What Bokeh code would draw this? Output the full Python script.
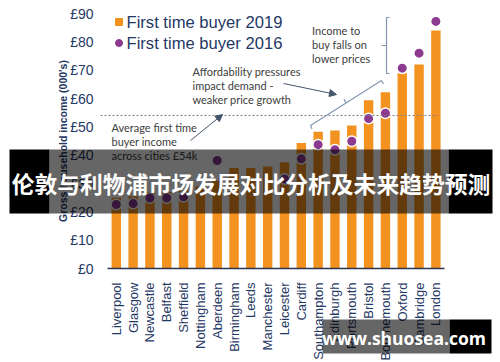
from bokeh.plotting import figure
from bokeh.models import (Range1d, FixedTicker, PrintfTickFormatter,
                          Label, BoxAnnotation, Arrow, NormalHead)
from bokeh.embed import file_html
from bokeh.resources import INLINE
import math

nan = float("nan")

cities = ["Liverpool", "Glasgow", "Newcastle", "Belfast", "Sheffield", "Nottingham",
          "Aberdeen", "Birmingham", "Leeds", "Manchester", "Leicester", "Cardiff",
          "Southampton", "Edinburgh", "Portsmouth", "Bristol", "Bournemouth",
          "Oxford", "Cambridge", "London"]
ftb_2019 = [25.0, 25.5, 27.0, 27.0, 27.5, 29.0, 31.0, 35.5, 35.5, 36.0, 37.5, 44.3,
            48.3, 48.7, 50.5, 59.4, 62.2, 68.9, 72.0, 84.0]
ftb_2016 = [22.6, 22.9, 24.9, 24.9, 25.3, nan, 38.1, nan, nan, nan, 31.6, 38.7,
            43.7, 41.9, 44.9, 52.9, 54.8, 70.7, 76.0, 87.2]
y_ticks = [0, 10, 20, 30, 40, 50, 60, 70, 80, 90]
avg_income = 54

ORANGE = "#F4921F"
PURPLE = "#8B3A8F"
NAVY = "#1F3864"
GREY_TXT = "#404040"
ARROW_C = "#44546A"
BRACE_C = "#8497B0"

W, H = 500, 362
# picture geometry: first category centre, category step, zero line, px per £1k
X0_IMG, STEP = 115.8, 16.82
Y0_IMG, PX_Y = 268.0, 255.0 / 90.0


def ix(x):
    return (x - X0_IMG) / STEP


def iy(y):
    return (Y0_IMG - y) / PX_Y


idx = list(range(len(cities)))

p = figure(width=W, height=H, output_backend="svg", toolbar_location=None,
           x_range=Range1d(ix(0), ix(W)), y_range=Range1d(iy(H), iy(0)),
           min_border=0, min_border_left=0, min_border_right=0,
           min_border_top=0, min_border_bottom=0)
p.title.visible = False
p.outline_line_color = None
p.grid.visible = False
p.background_fill_color = "white"

p.vbar(x=idx, top=ftb_2019, width=0.56, color=ORANGE, line_color=None)
p.scatter(x=idx, y=ftb_2016, size=10.5, fill_color=PURPLE, line_color="white",
          line_width=1.5)

# average line
p.segment(x0=[ix(100)], y0=[avg_income], x1=[ix(437)], y1=[avg_income],
          line_color="#7F7F7F", line_dash="2 2", line_width=1)

# axes (fixed inside the frame)
ya = p.yaxis[0]
ya.fixed_location = ix(107)
ya.bounds = (y_ticks[0], y_ticks[-1])
ya.ticker = FixedTicker(ticks=y_ticks)
ya.formatter = PrintfTickFormatter(format="£%d")
ya.axis_line_color = None
ya.major_tick_line_color = None
ya.minor_tick_line_color = None
ya.major_label_text_font = "Liberation Sans"
ya.major_label_text_font_size = "14px"
ya.major_label_text_color = NAVY
ya.major_label_standoff = 8
ya.axis_label = "Gross household income (000's)"
ya.axis_label_text_font = "Liberation Sans"
ya.axis_label_text_font_size = "10.5px"
ya.axis_label_text_font_style = "bold"
ya.axis_label_text_color = NAVY
ya.axis_label_standoff = -2

xa = p.xaxis[0]
xa.fixed_location = 0
xa.bounds = (ix(107), ix(443.5))
xa.ticker = FixedTicker(ticks=idx)
xa.major_label_overrides = {i: c for i, c in zip(idx, cities)}
xa.axis_line_color = "#2B3550"
xa.axis_line_width = 1.3
xa.major_tick_line_color = None
xa.minor_tick_line_color = None
xa.major_label_orientation = math.pi / 2
xa.major_label_text_font = "Liberation Sans"
xa.major_label_text_font_size = "13px"
xa.major_label_text_color = NAVY
xa.major_label_standoff = 8

# legend
p.scatter(x=[ix(118.5)], y=[iy(21.5)], marker="square", size=7, color=ORANGE)
p.scatter(x=[ix(118.5)], y=[iy(42.5)], marker="circle", size=7, color=PURPLE)
for txt, yy in [("First time buyer 2019", 21.5), ("First time buyer 2016", 42.5)]:
    p.add_layout(Label(x=ix(126), y=iy(yy), text=txt, text_baseline="middle",
                       text_font="Liberation Sans", text_font_size="16.6px",
                       text_color=NAVY))


def note(lines, x0, y0, step=14):
    for k, t in enumerate(lines):
        p.add_layout(Label(x=ix(x0), y=iy(y0 + k * step), text=t,
                           text_baseline="middle", text_font="Lato",
                           text_font_size="11px", text_color=GREY_TXT))


note(["Average first time", "buyer income", "across cities £54k"], 111, 127)
note(["Affordability pressures", "impact demand -", "weaker price growth"], 192, 71)
note(["Income to", "buy falls on", "lower prices"], 311.5, 30)

for (xs, ys, xe, ye) in [(190, 140, 222, 114), (283, 83, 336, 94)]:
    p.add_layout(Arrow(x_start=ix(xs), y_start=iy(ys), x_end=ix(xe), y_end=iy(ye),
                       line_color=ARROW_C, line_width=1,
                       end=NormalHead(size=7, fill_color=ARROW_C, line_color=ARROW_C)))

brace_segments = [
    [(311.5, 128.5), (310, 125), (381, 80), (383, 83.5)],
    [(345.5, 102.5), (343.5, 98.5)],
    [(389, 17), (386, 17), (386, 73), (389, 73)],
    [(386, 45), (381, 45)],
]
p.multi_line(xs=[[ix(a) for a, b in seg] for seg in brace_segments],
             ys=[[iy(b) for a, b in seg] for seg in brace_segments],
             line_color=BRACE_C, line_width=1.2)


def box(x0, x1, y0, y1, alpha):
    p.add_layout(BoxAnnotation(left=ix(x0), right=ix(x1), top=iy(y0), bottom=iy(y1),
                               fill_color="black", fill_alpha=alpha, line_color=None,
                               level="overlay"))


box(9, 49, 149, 213, 1.0)
box(49, 448, 149, 213, 0.6)
box(448, 492, 149, 213, 1.0)
p.add_layout(Label(x=ix(250.5), y=iy(183), text="伦敦与利物浦市场发展对比分析及未来趋势预测",
                   text_align="center", text_baseline="middle",
                   text_font="Noto Sans CJK SC", text_font_style="bold",
                   text_font_size="22.8px", text_color="white", level="overlay"))

box(322, 449, 319, 353, 0.6)
box(449, 491, 319, 353, 1.0)
p.add_layout(Label(x=ix(403.5), y=iy(337), text="www.shuosea.com",
                   text_align="center", text_baseline="middle",
                   text_font="Open Sans", text_font_style="bold",
                   text_font_size="17.5px", text_color="white", level="overlay"))

open("out.html", "w").write(file_html(p, INLINE))
